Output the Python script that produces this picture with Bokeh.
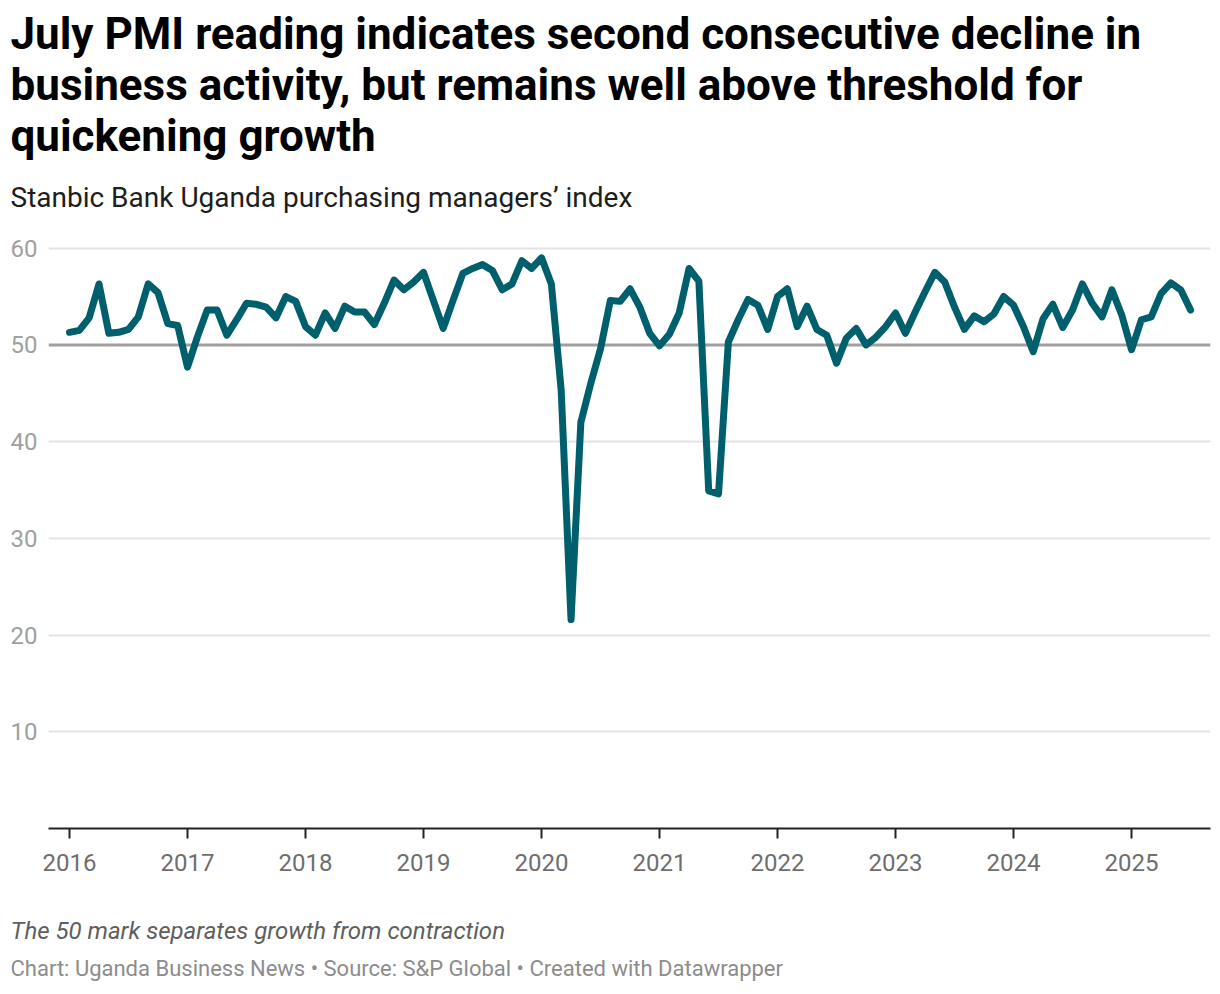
from bokeh.plotting import figure
from bokeh.models import Range1d, FixedTicker, Span, CustomJSTickFormatter, Title
from bokeh.embed import file_html
from bokeh.resources import INLINE

# ---- data ----
start_year = 2016
pmi_2016 = [51.3, 51.5, 52.8, 56.3, 51.2, 51.3, 51.6, 52.9, 56.3, 55.4, 52.2, 52.0]
pmi_2017 = [47.7, 50.8, 53.6, 53.6, 51.0, 52.6, 54.3, 54.2, 53.9, 52.8, 55.0, 54.5]
pmi_2018 = [51.9, 51.0, 53.3, 51.7, 54.0, 53.4, 53.4, 52.1, 54.3, 56.7, 55.7, 56.5]
pmi_2019 = [57.5, 54.6, 51.7, 54.6, 57.4, 57.9, 58.3, 57.7, 55.7, 56.3, 58.7, 57.9]
pmi_2020 = [59.0, 56.3, 45.3, 21.6, 42.0, 46.0, 49.6, 54.6, 54.5, 55.8, 53.9, 51.2]
pmi_2021 = [49.9, 51.1, 53.3, 57.9, 56.6, 34.9, 34.6, 50.3, 52.6, 54.7, 54.1, 51.6]
pmi_2022 = [55.0, 55.8, 51.9, 54.0, 51.6, 51.0, 48.1, 50.7, 51.7, 50.0, 50.8, 51.9]
pmi_2023 = [53.3, 51.2, 53.4, 55.5, 57.5, 56.5, 53.9, 51.6, 53.0, 52.4, 53.2, 55.0]
pmi_2024 = [54.1, 51.9, 49.3, 52.7, 54.2, 51.8, 53.6, 56.3, 54.3, 52.9, 55.7, 53.1]
pmi_2025 = [49.5, 52.6, 52.9, 55.3, 56.4, 55.7, 53.6]

year_ticks = [2016, 2017, 2018, 2019, 2020, 2021, 2022, 2023, 2024, 2025]
y_ticks = [10, 20, 30, 40, 50, 60]
threshold = 50

title_text = ("July PMI reading indicates second consecutive decline in\n"
              "business activity, but remains well above threshold for\n"
              "quickening growth")
subtitle = "Stanbic Bank Uganda purchasing managers\u2019 index"
note = "The 50 mark separates growth from contraction"
credit = "Chart: Uganda Business News \u2022 Source: S&P Global \u2022 Created with Datawrapper"

pmi = (pmi_2016 + pmi_2017 + pmi_2018 + pmi_2019 + pmi_2020 +
       pmi_2021 + pmi_2022 + pmi_2023 + pmi_2024 + pmi_2025)
dates = [start_year + i / 12 for i in range(len(pmi))]

# ---- layout ----
W, H = 1220, 994
FL, FR, FT, FB = 48, 1210, 238, 828

p = figure(width=W, height=H, output_backend="svg", toolbar_location=None,
           x_range=Range1d(2015.822, 2025.669), y_range=Range1d(0, 61),
           min_border_left=FL, min_border_right=W - FR,
           min_border_top=FT, min_border_bottom=H - FB)
p.title = None
p.outline_line_color = None
p.background_fill_color = "white"
p.border_fill_color = "white"

# axes
p.xaxis.ticker = FixedTicker(ticks=year_ticks)
p.xaxis.formatter = CustomJSTickFormatter(code="return String(Math.round(tick));")
p.xaxis.axis_line_color = "#222222"
p.xaxis.axis_line_width = 2
p.xaxis.major_tick_line_color = "#222222"
p.xaxis.major_tick_line_width = 2
p.xaxis.major_tick_out = 10
p.xaxis.major_tick_in = 0
p.xaxis.minor_tick_line_color = None
p.xaxis.major_label_text_font = "Roboto"
p.xaxis.major_label_text_font_size = "24px"
p.xaxis.major_label_text_color = "#6e6e6e"
p.xaxis.major_label_standoff = 15

p.yaxis.ticker = FixedTicker(ticks=y_ticks)
p.yaxis.axis_line_color = None
p.yaxis.major_tick_line_color = None
p.yaxis.minor_tick_line_color = None
p.yaxis.major_label_text_font = "Roboto"
p.yaxis.major_label_text_font_size = "24px"
p.yaxis.major_label_text_color = "#a0a0a0"
p.yaxis.major_label_standoff = 5

p.xgrid.grid_line_color = None
p.ygrid.ticker = FixedTicker(ticks=[t for t in y_ticks if t != threshold])
p.ygrid.grid_line_color = "#e3e3e3"
p.ygrid.grid_line_width = 2

p.add_layout(Span(location=threshold, dimension="width",
                  line_color="#a39e9f", line_width=3, level="underlay"))

p.line(dates, pmi, line_color="#005f6d", line_width=7,
       line_join="round", line_cap="round")

# titles above (first added = closest to plot)
p.add_layout(Title(text=subtitle, align="left", offset=10 - FL, standoff=50,
                   text_font="Roboto", text_font_size="28px", text_font_style="normal",
                   text_color="#1d1d1d"), "above")
p.add_layout(Title(text=title_text, align="left", offset=10 - FL, standoff=-18,
                   text_font="Roboto", text_font_size="44px", text_font_style="bold",
                   text_color="#000000", text_line_height=0.99), "above")
# notes below
p.add_layout(Title(text=note, align="left", offset=10 - FL, standoff=82,
                   text_font="Roboto", text_font_size="24px", text_font_style="italic",
                   text_color="#5e5e5e"), "below")
p.add_layout(Title(text=credit, align="left", offset=10 - FL, standoff=-60,
                   vertical_align="top",
                   text_font="Roboto", text_font_size="22px", text_font_style="normal",
                   text_color="#8c8c8c"), "below")

open("out.html", "w").write(file_html(p, INLINE))
